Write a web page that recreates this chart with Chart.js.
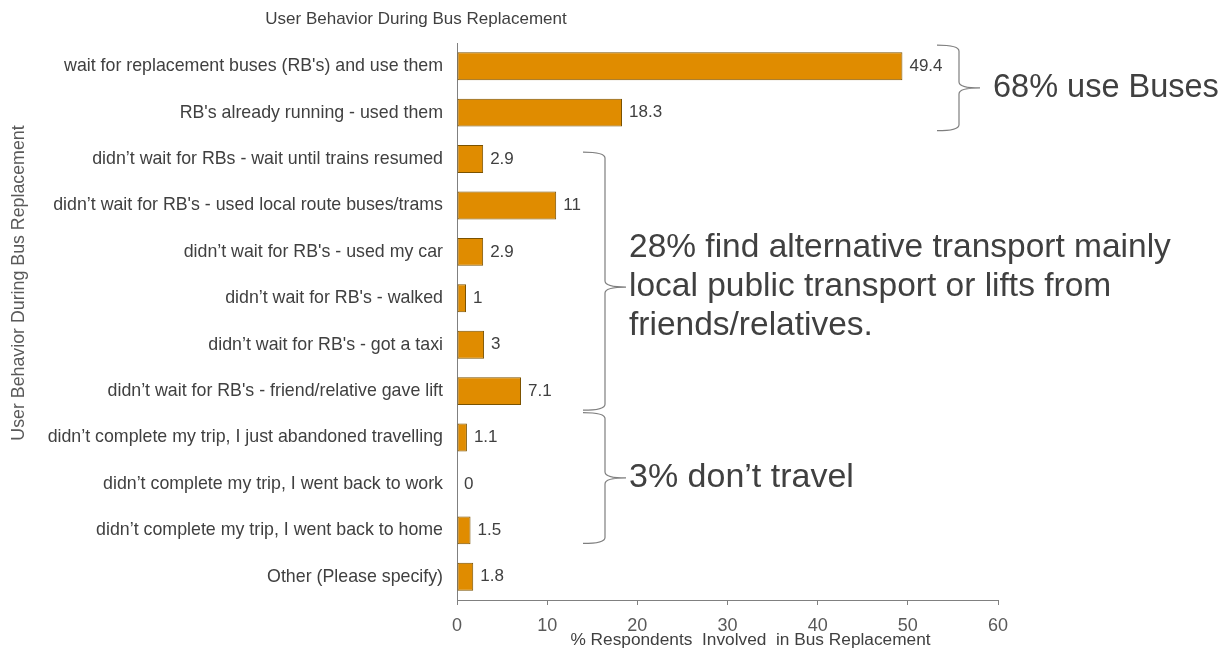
<!DOCTYPE html>
<html>
<head>
<meta charset="utf-8">
<script src="https://cdn.jsdelivr.net/npm/chart.js@4.4.1/dist/chart.umd.min.js"></script>
<style>
  html, body { margin: 0; padding: 0; background: #fff; }
</style>
</head>
<body>
<canvas id="busChart" width="1224" height="649"></canvas>
<script>
const categories = [
    "wait for replacement buses (RB's) and use them",
    "RB's already running - used them",
    "didn’t wait for RBs - wait until trains resumed",
    "didn’t wait for RB's - used local route buses/trams",
    "didn’t wait for RB's - used my car",
    "didn’t wait for RB's - walked",
    "didn’t wait for RB's - got a taxi",
    "didn’t wait for RB's - friend/relative gave lift",
    "didn’t complete my trip, I just abandoned travelling",
    "didn’t complete my trip, I went back to work",
    "didn’t complete my trip, I went back to home",
    "Other (Please specify)"
];
const percentValues = [49.4, 18.3, 2.9, 11, 2.9, 1, 3, 7.1, 1.1, 0, 1.5, 1.8];
const xTicks = [0, 10, 20, 30, 40, 50, 60];

const chartTitle = 'User Behavior During Bus Replacement';
const yTitle = 'User Behavior During Bus Replacement';
const xTitle = '% Respondents  Involved  in Bus Replacement';
const groupNotes = [
    { lines: ['68% use Buses'], from: 0, to: 1 },
    { lines: ['28% find alternative transport mainly', 'local public transport or lifts from', 'friends/relatives.'], from: 2, to: 7 },
    { lines: ['3% don’t travel'], from: 8, to: 10 }
];

const textColor = '#404040';
const fontFam = '"Liberation Sans", Arial, sans-serif';

// labels at the bar ends
const valueLabels = {
    id: 'valueLabels',
    afterDatasetsDraw(chart) {
        const ctx = chart.ctx;
        const meta = chart.getDatasetMeta(0);
        ctx.save();
        ctx.font = '17px ' + fontFam;
        ctx.fillStyle = textColor;
        ctx.textAlign = 'left';
        ctx.textBaseline = 'middle';
        meta.data.forEach((bar, i) => {
            ctx.fillText(String(percentValues[i]), bar.x + 7, bar.y);
        });
        ctx.restore();
    }
};

function drawBrace(ctx, x0, top, bottom, mid, back, tip) {
    const r = 6;
    ctx.beginPath();
    ctx.moveTo(x0 - back, top);
    ctx.quadraticCurveTo(x0, top, x0, top + r);
    ctx.lineTo(x0, mid - r);
    ctx.quadraticCurveTo(x0, mid, x0 + tip, mid);
    ctx.quadraticCurveTo(x0, mid, x0, mid + r);
    ctx.lineTo(x0, bottom - r);
    ctx.quadraticCurveTo(x0, bottom, x0 - back, bottom);
    ctx.stroke();
}

// titles, braces and group notes
const notes = {
    id: 'notes',
    afterDraw(chart) {
        const ctx = chart.ctx;
        const y = chart.scales.y;
        const area = chart.chartArea;
        ctx.save();
        ctx.fillStyle = textColor;
        ctx.font = '17px ' + fontFam;
        ctx.textAlign = 'center';
        ctx.textBaseline = 'middle';
        ctx.fillText(chartTitle, 416, 19);

        ctx.font = '17.3px ' + fontFam;
        ctx.fillText(xTitle, area.left + (area.right - area.left) / 2 + 23, 640);

        ctx.save();
        ctx.translate(19, 283);
        ctx.rotate(-Math.PI / 2);
        ctx.fillStyle = '#595959';
        ctx.font = '17.8px ' + fontFam;
        ctx.fillText(yTitle, 0, 0);
        ctx.restore();

        ctx.strokeStyle = '#7f7f7f';
        ctx.lineWidth = 1.2;
        const braceX = [959, 605, 605];
        const topOff = [-21, -7, -25];
        const botOff = [18, 19, 13];
        const midShift = [0, 6, 0];
        const textX = [993, 629, 629];
        const noteSize = [32.5, 33.5, 34];
        ctx.textAlign = 'left';
        groupNotes.forEach((g, k) => {
            const t = y.getPixelForValue(g.from) + topOff[k];
            const b = y.getPixelForValue(g.to) + botOff[k];
            const mid = (t + b) / 2 + midShift[k];
            drawBrace(ctx, braceX[k], t, b, mid, 22, 21);
            ctx.font = noteSize[k] + 'px ' + fontFam;
            const lh = 39;
            const start = mid - (g.lines.length - 1) * lh / 2;
            g.lines.forEach((ln, j) => ctx.fillText(ln, textX[k], start + j * lh));
        });
        ctx.restore();
    }
};

new Chart(document.getElementById('busChart'), {
    type: 'bar',
    data: {
        labels: categories,
        datasets: [{
            data: percentValues,
            backgroundColor: '#E08C00',
            borderColor: '#7a5200',
            borderWidth: 1,
            borderSkipped: false,
            barPercentage: 0.6,
            categoryPercentage: 1.0
        }]
    },
    options: {
        indexAxis: 'y',
        responsive: false,
        animation: false,
        layout: { padding: { left: 0, right: 226, top: 43, bottom: 0 } },
        plugins: {
            legend: { display: false },
            title: { display: false },
            tooltip: { enabled: false }
        },
        scales: {
            x: {
                min: 0,
                max: 60,
                afterBuildTicks(scale) {
                    scale.ticks = xTicks.map(v => ({ value: v }));
                },
                afterFit(scale) { scale.height = 49; },
                grid: { drawOnChartArea: false, drawTicks: true, tickLength: 5, color: '#808080' },
                border: { display: true, color: '#808080', width: 1 },
                ticks: { color: '#595959', font: { size: 18, family: fontFam }, padding: 10 }
            },
            y: {
                afterFit(scale) { scale.width = 457; },
                grid: { display: false, drawTicks: false },
                border: { display: true, color: '#808080', width: 1 },
                ticks: { color: textColor, font: { size: 17.8, family: fontFam }, padding: 14 }
            }
        }
    },
    plugins: [valueLabels, notes]
});
</script>
</body>
</html>
